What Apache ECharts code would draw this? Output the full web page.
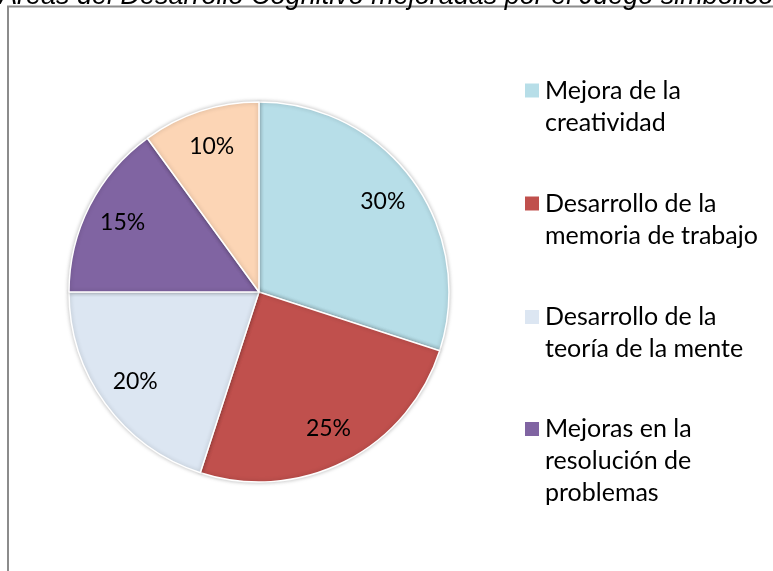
<!DOCTYPE html>
<html><head><meta charset="utf-8">
<script src="https://cdn.jsdelivr.net/npm/echarts@6/dist/echarts.min.js"></script>
<style>html,body{margin:0;padding:0;background:#fff}#c{width:773px;height:571px}</style>
</head><body><div id="c"></div>
<script>
const titleText = 'Áreas del Desarrollo Cognitivo mejoradas por el Juego simbólico';
const categories = ['Mejora de la creatividad', 'Desarrollo de la memoria de trabajo', 'Desarrollo de la teoría de la mente', 'Mejoras en la resolución de problemas', 'Desarrollo del lenguaje'];
const legendLabels = ['Mejora de la\ncreatividad', 'Desarrollo de la\nmemoria de trabajo', 'Desarrollo de la\nteoría de la mente', 'Mejoras en la\nresolución de\nproblemas'];
const values = [30, 25, 20, 15, 10];
const colors = ['#B7DEE8', '#C0504D', '#DCE6F2', '#8064A2', '#FCD5B5'];

const LH = 32;
const FONT = 'Lato';
const legendCenters = [90.5, 203.5, 317, 429];
const legends = legendLabels.map((lab, i) => {
  const n = lab.split('\n').length;
  const text = ' \n'.repeat(n - 1) + lab;
  return {
    orient: 'vertical', left: 523, top: legendCenters[i] - (2*n-1)*LH/2,
    padding: 0, itemWidth: 16, itemHeight: 16, itemGap: 0, icon: 'rect',
    selectedMode: false,
    data: [{name: categories[i]}],
    formatter: () => text,
    textStyle: {fontFamily: FONT, fontSize: 25, color: '#000', lineHeight: LH}
  };
});

const data = categories.map((c, i) => ({name: c, value: values[i], itemStyle: {color: colors[i]}}));

const chart = echarts.init(document.getElementById('c'), null, {renderer: 'canvas'});
chart.setOption({
  animation: false,
  legend: legends,
  graphic: [
    {type: 'rect', shape: {x: 8, y: 6.5, width: 900, height: 700}, style: {fill: 'none', stroke: '#8c8c8c', lineWidth: 2}, z: 0},
    {type: 'text', x: -1, y: -17.5, style: {text: titleText, font: 'italic 27px "Liberation Sans"', fill: '#000'}, z: 10}
  ],
  series: [
    {
      type: 'pie', center: [259, 292], radius: [0, 190], startAngle: 90, clockwise: true,
      data: data, label: {show: false}, labelLine: {show: false},
      itemStyle: {borderColor: '#fff', borderWidth: 1.5, shadowBlur: 4, shadowColor: 'rgba(0,0,0,0.25)'},
      silent: true
    },
    {
      type: 'pie', center: [259, 292], radius: [110, 190], startAngle: 90, clockwise: true,
      data: categories.map((c, i) => ({name: c, value: values[i]})),
      itemStyle: {color: 'rgba(0,0,0,0)'},
      label: {show: true, position: 'inside', formatter: '{d}%', fontFamily: FONT, fontSize: 23, color: '#000'},
      labelLine: {show: false}, silent: true
    }
  ]
});
</script></body></html>
